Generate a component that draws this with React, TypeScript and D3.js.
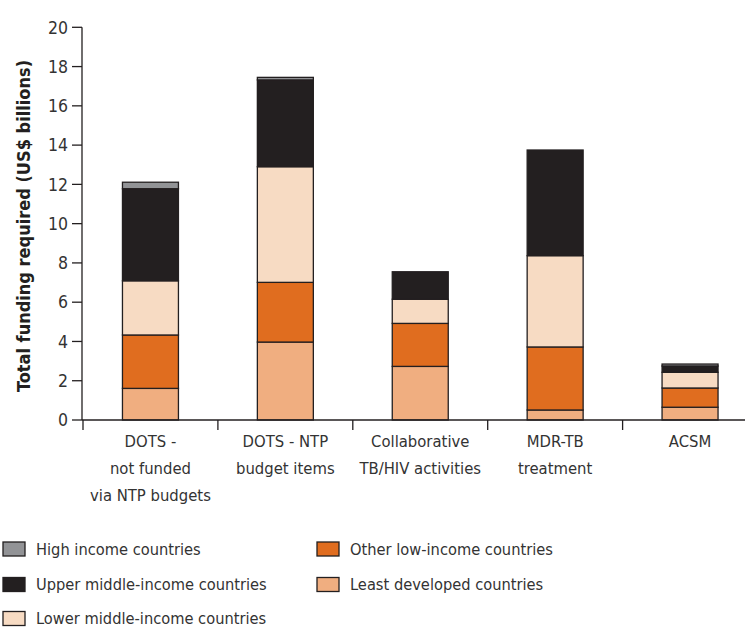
import React from "react";
import * as d3 from "d3";

const categories = [
  ["DOTS -", "not funded", "via NTP budgets"],
  ["DOTS - NTP", "budget items"],
  ["Collaborative", "TB/HIV activities"],
  ["MDR-TB", "treatment"],
  ["ACSM"],
];
const seriesNames = [
  "Least developed countries",
  "Other low-income countries",
  "Lower middle-income countries",
  "Upper middle-income countries",
  "High income countries",
];
const leastDeveloped = [1.61, 3.97, 2.73, 0.51, 0.65];
const otherLow = [2.72, 3.04, 2.19, 3.21, 0.98];
const lowerMiddle = [2.76, 5.89, 1.23, 4.65, 0.8];
const upperMiddle = [4.69, 4.42, 1.4, 5.38, 0.32];
const highIncome = [0.33, 0.13, 0.0, 0.0, 0.1];
const yTicks = [0, 2, 4, 6, 8, 10, 12, 14, 16, 18, 20];
const colors = ["#f0ae80", "#e06d1f", "#f7dbc3", "#231f20", "#929396"];

const FONT = "'Liberation Sans Narrow', 'DejaVu Sans Condensed', 'Roboto', sans-serif";

export default function App() {
  const W = 745, H = 628;
  const series = [leastDeveloped, otherLow, lowerMiddle, upperMiddle, highIncome];
  const rows = categories.map((c, i) => {
    const o: any = { idx: i };
    seriesNames.forEach((s, k) => (o[s] = series[k][i]));
    return o;
  });
  const stacked = d3.stack<any>().keys(seriesNames)(rows);
  const y = d3.scaleLinear().domain([0, 20]).range([420, 27.3]);
  const x = d3
    .scaleBand<number>()
    .domain(categories.map((_, i) => i))
    .range([83, 83 + 5 * 134.9])
    .paddingInner(0.585)
    .paddingOuter(0.2925);
  const ink = "#231f20";

  const legendItems = [
    { k: 4, x: 3, y: 549 },
    { k: 3, x: 3, y: 584.5 },
    { k: 2, x: 3, y: 618.5 },
    { k: 1, x: 317, y: 549 },
    { k: 0, x: 317, y: 584.5 },
  ];

  return (
    <svg width={W} height={H} style={{ position: "absolute", left: 0, top: 0, background: "#fff" }} fontFamily={FONT}>
      {stacked.map((s, k) =>
        s.map((d, i) => {
          const h = y(d[0]) - y(d[1]);
          if (h <= 0.01) return null;
          return (
            <rect
              key={`${k}-${i}`}
              x={x(i)}
              y={y(d[1])}
              width={x.bandwidth()}
              height={h}
              fill={colors[k]}
              stroke={ink}
              strokeWidth={1.3}
            />
          );
        })
      )}
      <line x1={82} x2={82} y1={27.3} y2={420} stroke={ink} strokeWidth={1.3} />
      {yTicks.map((t) => (
        <g key={t}>
          <line x1={72} x2={82} y1={y(t)} y2={y(t)} stroke={ink} strokeWidth={1.3} />
          <text x={68} y={y(t)} dy="0.36em" textAnchor="end" fontSize={17.5} fill="#333">
            {t}
          </text>
        </g>
      ))}
      <line x1={82} x2={745} y1={420} y2={420} stroke={ink} strokeWidth={1.5} />
      {categories.map((_, i) => {
        const bx = (x(i) as number) - (x.step() * x.paddingInner()) / 2;
        return <line key={i} x1={bx} x2={bx} y1={420} y2={430} stroke={ink} strokeWidth={1.3} />;
      })}
      {categories.map((lines, i) => (
        <text key={i} x={(x(i) as number) + x.bandwidth() / 2} textAnchor="middle" fontSize={16.5} fill="#333">
          {lines.map((l, j) => (
            <tspan key={j} x={(x(i) as number) + x.bandwidth() / 2} y={447 + j * 27}>
              {l}
            </tspan>
          ))}
        </text>
      ))}
      <text
        transform={`translate(30,226) rotate(-90)`}
        textAnchor="middle"
        fontSize={18}
        fontWeight="bold"
        fill={ink}
      >
        Total funding required (US$ billions)
      </text>
      {legendItems.map((it) => (
        <g key={it.k}>
          <rect x={it.x} y={it.y - 7} width={22} height={14} fill={colors[it.k]} stroke={ink} strokeWidth={1.3} />
          <text x={it.x + 33} y={it.y} dy="0.34em" fontSize={16.3} fill="#333">
            {seriesNames[it.k]}
          </text>
        </g>
      ))}
    </svg>
  );
}
